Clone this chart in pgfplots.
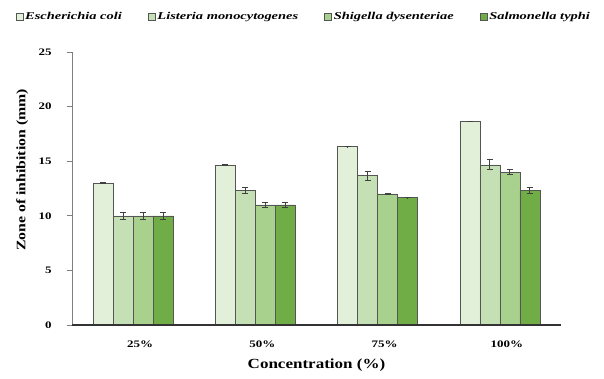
\documentclass[border=0pt]{standalone}
\usepackage{pgfplots}
\pgfplotsset{compat=1.18}
\usepackage{fontspec}
\setmainfont{Liberation Serif}
\newfontfamily\widefont[FakeStretch=1.3]{Liberation Serif}
\newfontfamily\labelfont[FakeStretch=1.22]{Liberation Serif}
\newfontfamily\legfont[FakeStretch=1.38]{Liberation Serif}

\definecolor{ecoli}{HTML}{E2EFD9}
\definecolor{liste}{HTML}{C5E0B4}
\definecolor{shig}{HTML}{A9D18E}
\definecolor{salm}{HTML}{70AD47}
\definecolor{edge}{HTML}{555555}
\definecolor{axisgray}{HTML}{7F7F7F}

\begin{document}
\begin{tikzpicture}
\begin{axis}[
  scale only axis,
  width=489bp, height=273bp,
  xmin=-0.5, xmax=3.5,
  ymin=0, ymax=25,
  ytick={0,5,...,25},
  xtick={0,1,2,3},
  xticklabels={25\%,50\%,75\%,100\%},
  major x tick style={draw=none},
  extra x ticks={-0.5,0.5,1.5,2.5,3.5},
  extra x tick labels={},
  extra x tick style={major tick length=5bp, tick style={draw=axisgray}},
  axis lines*=left,
  axis line style={draw=axisgray, line width=0.8pt},
  tick align=outside,
  tick style={draw=axisgray, line width=0.8pt},
  major tick length=5bp,
  ticklabel style={font=\widefont\bfseries\fontsize{10}{11}\selectfont},
  /pgf/number format/assume math mode=true,
  yticklabel style={xshift=-12bp},
  xticklabel style={yshift=-7bp, xshift=7bp},
  xlabel={Concentration (\%)},
  ylabel={Zone of inhibition (mm)},
  xlabel style={font=\labelfont\bfseries\fontsize{14}{16}\selectfont,
    at={(axis description cs:0.5,-0.147)}, anchor=center},
  ylabel style={font=\labelfont\bfseries\fontsize{13}{15}\selectfont,
    at={(axis description cs:-0.102,0.568)}, anchor=center},
  ybar=0pt,
  bar width=20bp,
  legend columns=4,
  legend style={at={(axis description cs:0.474,1.13)}, anchor=center, draw=none, fill=none,
    font=\legfont\bfseries\itshape\fontsize{10.5}{12}\selectfont,
    /tikz/every even column/.append style={column sep=24bp}},
  legend image code/.code={\draw[#1, draw=edge] (0bp,-3.5bp) rectangle (7bp,3.5bp);},
  error bars/y dir=both,
  error bars/y explicit,
  error bars/error bar style={draw=black!75, line width=0.8pt},
  error bars/error mark options={draw=black!75, line width=0.8pt, mark size=3bp, rotate=90},
  clip=false,
]
\addplot[fill=ecoli, draw=edge, line width=0.6pt] coordinates {
  (0,13.0) +- (0,0.02) (1,14.67) +- (0,0.02) (2,16.33) +- (0,0.02) (3,18.67) +- (0,0.02)};
\addplot[fill=liste, draw=edge, line width=0.6pt] coordinates {
  (0,10.0) +- (0,0.3) (1,12.33) +- (0,0.3) (2,13.67) +- (0,0.42) (3,14.67) +- (0,0.45)};
\addplot[fill=shig, draw=edge, line width=0.6pt] coordinates {
  (0,10.0) +- (0,0.3) (1,11.0) +- (0,0.27) (2,12.0) +- (0,0.02) (3,14.0) +- (0,0.22)};
\addplot[fill=salm, draw=edge, line width=0.6pt] coordinates {
  (0,10.0) +- (0,0.3) (1,11.0) +- (0,0.27) (2,11.67) +- (0,0.02) (3,12.33) +- (0,0.25)};
\legend{Escherichia coli, Listeria monocytogenes, Shigella dysenteriae, Salmonella typhi}
% dark base line under the bars
\draw[black!80, line width=1.2pt] (axis cs:-0.5,0) -- (axis cs:3.5,0);
\end{axis}
\path[use as bounding box] (current axis.south west) ++(-72bp,-54bp) rectangle ([xshift=43bp,yshift=52bp]current axis.north east);
\end{tikzpicture}
\end{document}
